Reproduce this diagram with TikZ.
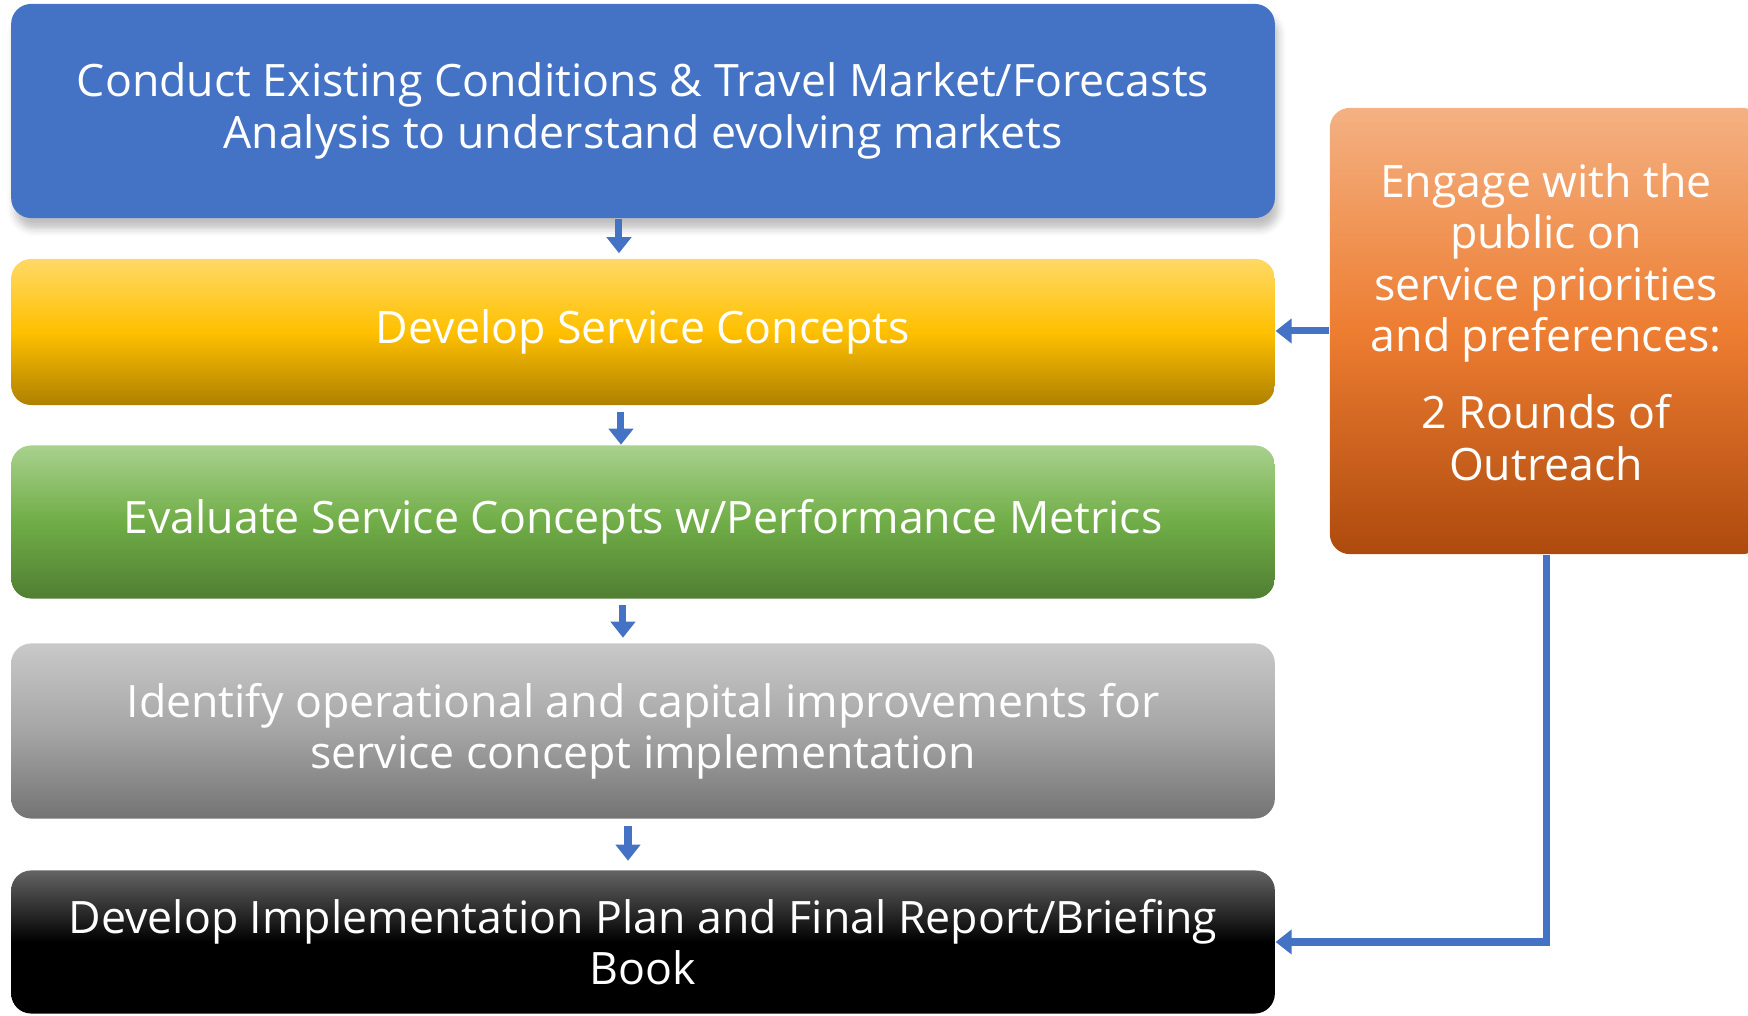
\documentclass[tikz,border=0pt]{standalone}
\usepackage{fontspec}
\setmainfont{Open Sans}
\usetikzlibrary{arrows.meta,shadows.blur}

\definecolor{flowblue}{HTML}{4472C4}
\definecolor{goldtop}{HTML}{FFD966}
\definecolor{goldmid}{HTML}{FFC000}
\definecolor{goldbot}{HTML}{AE8000}
\definecolor{greentop}{HTML}{A9D18E}
\definecolor{greenmid}{HTML}{70AD47}
\definecolor{greenbot}{HTML}{507E32}
\definecolor{greytop}{HTML}{C9C9C9}
\definecolor{greymid}{HTML}{A5A5A5}
\definecolor{greybot}{HTML}{747474}
\definecolor{inktop}{HTML}{646464}
\definecolor{orangetop}{HTML}{F4B183}
\definecolor{orangemid}{HTML}{ED7D31}
\definecolor{orangebot}{HTML}{AE4A0E}

\tikzset{
    stage/.style={rounded corners=0.2cm, text=white, align=center, inner sep=0pt,
        minimum width=12.63cm, font=\fontsize{12.7}{14.6}\selectfont},
    flow/.style={draw=flowblue, line width=0.07cm, -{Triangle[width=0.24cm, length=0.16cm]}},
}

\begin{document}
\begin{tikzpicture}[x=0.01cm, y=-0.01cm]
        \useasboundingbox (0, 0) rectangle (1748, 1016);

        % the five steps, top to bottom
        \node[stage, fill=flowblue, minimum height=2.14cm,
            blur shadow={shadow xshift=1pt, shadow yshift=-3pt, shadow opacity=25}]
            (existing) at (643, 111)
            {Conduct Existing Conditions \& Travel Market/Forecasts\\Analysis to understand evolving markets};
        \node[stage, top color=goldtop, bottom color=goldbot, middle color=goldmid, minimum height=1.46cm]
            (concepts) at (643, 332) {Develop Service Concepts};
        \node[stage, top color=greentop, bottom color=greenbot, middle color=greenmid, minimum height=1.53cm]
            (evaluate) at (643, 522) {Evaluate Service Concepts w/Performance Metrics};
        \node[stage, top color=greytop, bottom color=greybot, middle color=greymid, minimum height=1.75cm]
            (improve) at (643, 731) {Identify operational and capital improvements for\\service concept implementation};
        \node[stage, top color=inktop, bottom color=black, middle color=black, minimum height=1.43cm]
            (final) at (643, 942) {Develop Implementation Plan and Final Report/Briefing\\Book};

        % outreach box on the right
        \node[stage, top color=orangetop, bottom color=orangebot, middle color=orangemid,
            minimum width=4.32cm, minimum height=4.46cm, text depth=0.18cm]
            (outreach) at (1546, 331)
            {Engage with the\\public on\\service priorities\\and preferences:\\[0.26cm]2 Rounds of\\Outreach};

        % arrows
        \draw[flow, shorten >=0.05cm] ([xshift=-0.24cm]existing.south) -- ([xshift=-0.24cm]concepts.north);
        \draw[flow, shorten <=0.06cm] ([xshift=-0.22cm]concepts.south) -- ([xshift=-0.22cm]evaluate.north);
        \draw[flow, shorten <=0.06cm, shorten >=0.05cm] ([xshift=-0.2cm]evaluate.south) -- ([xshift=-0.2cm]improve.north);
        \draw[flow, shorten <=0.07cm, shorten >=0.09cm] ([xshift=-0.15cm]improve.south) -- ([xshift=-0.15cm]final.north);

        \draw[flow] (outreach.west) -- (outreach.west -| concepts.east);
        \draw[flow] (outreach.south) |- (final.east);
    \end{tikzpicture}
\end{document}
